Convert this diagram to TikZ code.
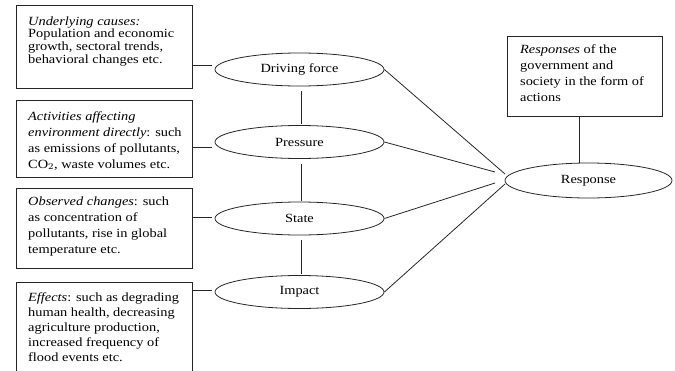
\documentclass[tikz,border=0pt]{standalone}
\usepackage{fontspec}
\setmainfont{Liberation Serif}
\usepackage{graphicx}
\usetikzlibrary{shapes.geometric}
\newcommand{\sx}[1]{\scalebox{1.15}[1]{#1}}
\newcommand{\tb}[2]{\fontsize{12.5}{#1}\selectfont\sx{\begin{tabular}[t]{@{}l@{}}#2\end{tabular}}}
\tikzset{
  frame/.style={draw=black!85, line width=0.8pt, rectangle, inner sep=0pt},
  oval/.style={draw=black!85, line width=0.8pt, ellipse, inner sep=0pt, minimum width=169pt, minimum height=33pt, font=\fontsize{12.5}{15}\selectfont},
  txt/.style={inner sep=0pt, anchor=base west},
  conn/.style={draw=black!85, line width=0.8pt}
}
\begin{document}
\begin{tikzpicture}[x=1pt,y=-1pt]
\clip (0,0) rectangle (675,370);
% boxes
\node[frame, minimum width=176pt, minimum height=83pt] (b1) at (104,46.5) {};
\node[frame, minimum width=176pt, minimum height=77pt] (b2) at (104,138.5) {};
\node[frame, minimum width=176pt, minimum height=80pt] (b3) at (104,228) {};
\node[frame, minimum width=176pt, minimum height=98pt] (b4) at (104,331) {};
\node[frame, minimum width=155pt, minimum height=80pt] (rb) at (584.5,76) {};
% texts
\node[txt] (t1) at (28,25) {\tb{12.7}{\textit{Underlying causes:}\\Population and economic\\growth, sectoral trends,\\behavioral changes etc.}};
\node[txt] (t2) at (28,120) {\tb{16}{\textit{Activities affecting}\\\textit{environment directly}: such\\as emissions of pollutants,\\CO$_2$, waste volumes etc.}};
\node[txt] (t3) at (28,205) {\tb{16}{\textit{Observed changes}: such\\as concentration of\\pollutants, rise in global\\temperature etc.}};
\node[txt] (t4) at (28,301) {\tb{15}{\textit{Effects}: such as degrading\\human health, decreasing\\agriculture production,\\increased frequency of\\flood events etc.}};
\node[txt] (t5) at (520,53) {\tb{16}{\textit{Responses} of the\\government and\\society in the form of\\actions}};
% ellipses
\node[oval] (e1) at (299.5,69.5) {\sx{Driving force}};
\node[oval] (e2) at (299.5,142) {\sx{Pressure}};
\node[oval] (e3) at (299.5,218.5) {\sx{State}};
\node[oval] (e4) at (299.5,292) {\sx{Impact}};
\node[oval, minimum width=167pt, minimum height=35pt] (resp) at (588.5,180.5) {\sx{Response}};
% box connectors
\draw[conn, shorten >=3pt] (b1.east |- 0,65) -- (e1.west |- 0,65);
\draw[conn, shorten >=3pt] (b2.east |- 0,147) -- (e2.west |- 0,147);
\draw[conn, shorten >=3pt] (b3.east |- 0,217) -- (e3.west |- 0,217);
\draw[conn, shorten >=3pt] (b4.east |- 0,290) -- (e4.west |- 0,290);
% vertical connectors
\draw[conn, shorten <=5pt, shorten >=1pt] (e1.south -| 301,0) -- (e2.north -| 301,0);
\draw[conn, shorten <=5pt, shorten >=1pt] (e2.south -| 301,0) -- (e3.north -| 301,0);
\draw[conn, shorten <=5pt, shorten >=1pt] (e3.south -| 301,0) -- (e4.north -| 301,0);
% response connectors
\coordinate (r1) at (505,174);
\coordinate (r2) at (495,172);
\coordinate (r3) at (495,183);
\coordinate (r4) at (505,184);
\draw[conn] (e1.east) -- (r1);
\draw[conn] (e2.east) -- (r2);
\draw[conn] (e3.east) -- (r3);
\draw[conn] (e4.east) -- (r4);
\draw[conn] (rb.south -| 579,0) -- (resp.north -| 579,0);
\end{tikzpicture}
\end{document}
